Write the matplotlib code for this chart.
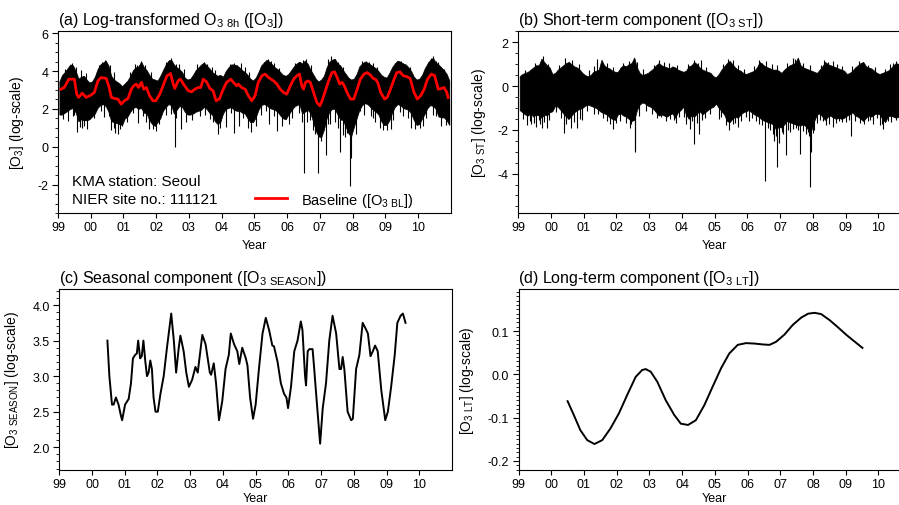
import numpy as np
import matplotlib
matplotlib.use("Agg")
import matplotlib.pyplot as plt
from matplotlib.ticker import MultipleLocator, FixedLocator, FixedFormatter, FuncFormatter

plt.rcParams['font.family'] = ['Liberation Sans', 'DejaVu Sans']
plt.rcParams['mathtext.fontset'] = 'custom'
plt.rcParams['mathtext.rm'] = 'Liberation Sans'
plt.rcParams['axes.unicode_minus'] = False

# ---------------- data ----------------
year_ticks = [1999, 2000, 2001, 2002, 2003, 2004, 2005, 2006, 2007, 2008, 2009, 2010]
year_labels = ['99', '00', '01', '02', '03', '04', '05', '06', '07', '08', '09', '10']

# monthly time index (mid-month, decimal years 1999-2010)
month_mid = 1999 + (np.arange(144) + 0.5) / 12.0

# (a) log-transformed O3: monthly envelope of daily values
o3_upper = [
    3.45, 3.8, 3.95, 4.15, 4.35, 4.3, 4.0, 3.6, 3.7, 3.75, 3.55, 3.4,
    3.45, 3.7, 4.1, 4.35, 4.45, 4.55, 4.3, 3.75, 3.55, 3.45, 3.35, 3.2,
    3.35, 3.5, 3.75, 4.05, 4.2, 4.25, 4.5, 4.2, 4.05, 3.8, 3.6, 3.55,
    3.5, 3.75, 4.05, 4.35, 4.55, 4.6, 4.35, 4.2, 4.1, 3.95, 3.65, 3.55,
    3.6, 3.8, 4.05, 4.2, 4.35, 4.45, 4.3, 4.15, 3.95, 3.85, 3.75, 3.8,
    3.7, 4.0, 4.2, 4.35, 4.35, 4.3, 4.2, 4.05, 3.95, 3.8, 3.6, 3.5,
    3.65, 3.95, 4.3, 4.45, 4.6, 4.5, 4.35, 4.2, 4.1, 3.95, 3.8, 3.75,
    3.85, 4.05, 4.25, 4.4, 4.5, 4.4, 4.55, 4.4, 4.1, 3.85, 3.6, 3.45,
    3.55, 3.75, 4.2, 4.5, 4.6, 4.65, 4.4, 4.3, 4.05, 3.85, 3.65, 3.55,
    3.6, 3.85, 4.25, 4.4, 4.5, 4.45, 4.35, 4.25, 4.15, 4.0, 3.8, 3.7,
    3.65, 3.9, 4.2, 4.4, 4.55, 4.5, 4.4, 4.35, 4.2, 4.0, 3.7, 3.55,
    3.6, 3.8, 4.15, 4.4, 4.6, 4.7, 4.45, 4.35, 4.2, 4.05, 3.85, 3.5,
]
o3_lower = [
    1.7, 1.7, 1.8, 1.9, 2.0, 2.05, 1.8, 1.35, 1.45, 1.4, 1.4, 1.45,
    1.6, 1.75, 2.05, 2.2, 2.25, 2.15, 1.85, 1.35, 1.3, 1.25, 1.2, 1.15,
    1.5, 1.6, 1.85, 2.05, 2.1, 2.0, 2.05, 1.8, 1.75, 1.4, 1.2, 1.1,
    1.3, 1.5, 1.9, 2.1, 2.25, 2.2, 1.75, 1.95, 2.15, 2.1, 1.85, 1.7,
    1.7, 1.75, 1.85, 1.9, 1.95, 2.1, 2.0, 1.8, 1.7, 1.35, 1.2, 1.3,
    1.75, 2.0, 2.05, 2.1, 1.95, 1.9, 1.9, 1.8, 1.75, 1.5, 1.3, 1.3,
    1.55, 1.95, 2.2, 2.25, 2.2, 2.05, 2.0, 1.95, 1.85, 1.65, 1.5, 1.45,
    1.7, 1.9, 2.1, 2.2, 2.25, 1.75, 1.85, 1.95, 1.8, 1.35, 0.85, 0.55,
    0.5, 0.9, 1.5, 1.85, 2.0, 2.0, 1.7, 1.45, 1.4, 1.05, 0.7, 0.55,
    1.05, 1.5, 1.95, 2.2, 2.3, 2.25, 2.1, 1.95, 1.85, 1.7, 1.35, 1.15,
    1.15, 1.4, 1.8, 2.1, 2.25, 2.2, 2.05, 2.0, 1.95, 1.75, 1.4, 1.15,
    1.2, 1.5, 1.75, 2.05, 2.2, 2.15, 2.0, 1.6, 1.55, 1.55, 1.4, 1.15,
]
# individual low days in (a)
o3_dn_year = [1999.30, 1999.45, 1999.59, 1999.74, 1999.88, 2000.40, 2000.63, 2000.75,
              2000.82, 2000.96, 2001.45, 2001.78, 2001.90, 2002.00, 2002.45, 2002.56,
              2002.75, 2003.35, 2003.65, 2003.88, 2004.12, 2004.38, 2004.52, 2004.90,
              2005.05, 2005.45, 2005.70, 2006.05, 2006.35, 2006.53, 2006.62, 2006.84,
              2006.93, 2007.18, 2007.30, 2007.45, 2007.62, 2007.84, 2007.91, 2007.96,
              2008.22, 2008.62, 2008.92, 2009.18, 2009.45, 2009.91, 2010.15, 2010.55,
              2010.95,
              1999.15, 1999.50, 1999.66, 1999.80, 2000.10, 2000.30, 2000.55, 2000.70,
              2000.88, 2001.10, 2001.30, 2001.60, 2001.70, 2002.10, 2002.30, 2002.62,
              2002.90, 2003.10, 2003.50, 2003.75, 2003.95, 2004.30, 2004.65, 2004.80,
              2005.20, 2005.35, 2005.60, 2005.85, 2006.15, 2006.45, 2006.70, 2006.78,
              2007.05, 2007.25, 2007.55, 2007.70, 2007.78, 2008.10, 2008.35, 2008.55,
              2008.70, 2008.85, 2009.05, 2009.25, 2009.55, 2009.70, 2009.80, 2010.05,
              2010.25, 2010.45, 2010.70, 2010.85]
o3_dn_value = [1.35, 1.6, 0.8, 1.0, 0.95, 1.55, 0.9, 0.75,
               0.7, 1.1, 1.25, 0.95, 0.95, 0.85, 1.75, 0.0,
               0.95, 1.65, 1.45, 0.7, 1.05, 0.75, 1.1, 0.76,
               1.1, 1.2, 0.85, 1.2, 1.8, -1.4, 1.3, 0.7,
               -1.4, -0.45, 1.2, 1.3, -0.3, 0.75, -2.05, -0.6,
               1.9, 1.5, 0.9, 0.95, 1.85, 0.93, 1.1, 1.65,
               1.2,
               1.45, 1.7, 1.05, 1.1, 1.5, 1.9, 1.6, 1.0,
               0.95, 1.3, 1.8, 1.6, 1.3, 1.2, 1.7, 1.5,
               1.3, 1.4, 1.7, 1.3, 1.0, 1.8, 1.5, 1.0,
               1.7, 1.9, 1.6, 1.1, 1.5, 1.3, 1.4, 0.9,
               0.3, 1.2, 1.0, 0.6, 0.5, 0.7, 1.7, 1.6,
               1.3, 1.0, 0.9, 1.4, 1.6, 1.5, 1.0, 1.0,
               1.5, 1.7, 1.1, 1.15]
# individual high days in (a)
o3_up_year = [1999.42, 1999.70, 2000.45, 2000.58, 2001.42, 2001.55, 2002.45, 2002.62,
              2003.45, 2003.70, 2004.48, 2004.58, 2005.43, 2005.60, 2006.40, 2006.57,
              2007.35, 2007.55, 2008.42, 2008.62, 2009.40, 2009.55, 2010.45, 2010.62,
              1999.20, 1999.55, 1999.85, 2000.25, 2000.35, 2000.70, 2001.20, 2001.35,
              2001.65, 2001.85, 2002.30, 2002.38, 2002.70, 2002.85, 2003.25, 2003.55,
              2003.80, 2004.25, 2004.38, 2004.70, 2004.85, 2005.30, 2005.50, 2005.75,
              2006.25, 2006.50, 2006.72, 2007.25, 2007.45, 2007.70, 2008.30, 2008.50,
              2008.75, 2009.30, 2009.48, 2009.75, 2010.30, 2010.40, 2010.55, 2010.80]
o3_up_value = [4.4, 4.05, 4.6, 4.3, 4.3, 4.55, 4.7, 4.35,
               4.5, 4.2, 4.3, 4.4, 4.63, 4.45, 4.5, 4.65,
               4.77, 4.5, 4.55, 4.45, 4.55, 4.4, 4.77, 4.5,
               4.1, 4.2, 3.9, 4.3, 4.5, 3.95, 3.95, 4.35,
               4.3, 3.95, 4.5, 4.6, 4.35, 4.1, 4.35, 4.35,
               4.05, 4.35, 4.45, 4.2, 3.95, 4.5, 4.55, 4.15,
               4.4, 4.6, 4.3, 4.65, 4.6, 4.2, 4.55, 4.5,
               4.2, 4.45, 4.55, 4.2, 4.5, 4.7, 4.55, 4.1]

# (a) baseline (red)
bl_year = [1999.09, 1999.19, 1999.33, 1999.50, 1999.57, 1999.63, 1999.74, 1999.86, 2000.01, 2000.11,
           2000.22, 2000.32, 2000.47, 2000.55, 2000.63, 2000.73, 2000.83, 2000.93, 2001.03, 2001.14,
           2001.24, 2001.31, 2001.39, 2001.46, 2001.55, 2001.62, 2001.70, 2001.80, 2001.90, 2001.99,
           2002.11, 2002.21, 2002.33, 2002.44, 2002.52, 2002.57, 2002.67, 2002.74, 2002.87, 2002.98,
           2003.08, 2003.18, 2003.28, 2003.36, 2003.44, 2003.54, 2003.64, 2003.74, 2003.83, 2003.93,
           2004.05, 2004.15, 2004.28, 2004.36, 2004.46, 2004.51, 2004.61, 2004.72, 2004.82, 2004.92,
           2005.02, 2005.12, 2005.23, 2005.33, 2005.43, 2005.59, 2005.69, 2005.79, 2005.89, 2005.99,
           2006.10, 2006.20, 2006.30, 2006.38, 2006.45, 2006.50, 2006.56, 2006.63, 2006.71, 2006.81,
           2006.91, 2007.00, 2007.07, 2007.17, 2007.27, 2007.37, 2007.45, 2007.53, 2007.61, 2007.68,
           2007.75, 2007.83, 2007.94, 2008.04, 2008.14, 2008.24, 2008.35, 2008.45, 2008.55, 2008.63,
           2008.70, 2008.77, 2008.86, 2008.98, 2009.06, 2009.16, 2009.27, 2009.35, 2009.45, 2009.55,
           2009.65, 2009.76, 2009.88, 2009.98, 2010.08, 2010.19, 2010.29, 2010.41, 2010.51, 2010.62,
           2010.72, 2010.80, 2010.88, 2010.92]
bl_value = [3.04, 3.13, 3.57, 3.57, 2.78, 2.61, 2.83, 2.61, 2.73, 2.87,
            3.48, 3.66, 3.61, 3.22, 2.61, 2.55, 2.52, 2.25, 2.43, 2.55,
            3.04, 3.22, 3.31, 3.13, 3.40, 3.04, 3.13, 2.69, 2.43, 2.43,
            2.78, 3.22, 3.75, 3.87, 3.31, 3.08, 3.48, 3.57, 3.22, 2.96,
            2.90, 3.04, 3.13, 3.13, 3.57, 3.43, 3.08, 2.96, 2.43, 2.52,
            3.04, 3.40, 3.57, 3.40, 3.22, 3.31, 3.13, 3.04, 2.69, 2.43,
            2.69, 3.40, 3.75, 3.84, 3.66, 3.48, 3.31, 3.04, 2.87, 2.78,
            3.22, 3.57, 3.75, 3.84, 3.22, 3.04, 3.40, 3.48, 3.40, 2.87,
            2.34, 2.16, 2.43, 2.96, 3.48, 3.92, 3.96, 3.66, 3.31, 3.40,
            3.22, 2.87, 2.52, 2.52, 3.04, 3.57, 3.84, 3.92, 3.78, 3.61,
            3.57, 3.40, 2.87, 2.52, 2.61, 3.04, 3.57, 3.92, 3.96, 3.75,
            3.71, 3.61, 2.87, 2.52, 2.69, 3.04, 3.57, 3.84, 3.75, 3.04,
            3.08, 3.13, 2.87, 2.60]

# (b) short-term component: monthly envelope
st_upper = [
    0.45, 0.55, 0.6, 0.65, 0.75, 0.85, 0.95, 0.95, 1.25, 1.1, 0.95, 0.85,
    0.55, 0.6, 0.75, 0.85, 0.95, 1.05, 1.1, 1.0, 0.9, 0.85, 0.75, 0.6,
    0.5, 0.45, 0.5, 0.65, 0.7, 0.75, 1.2, 0.95, 0.85, 0.8, 0.7, 0.65,
    0.65, 0.85, 0.95, 0.9, 1.0, 1.05, 1.3, 0.85, 0.6, 0.5, 0.55, 0.6,
    0.7, 0.8, 0.95, 1.05, 0.95, 0.9, 0.85, 0.8, 0.9, 0.85, 0.75, 0.7,
    0.65, 0.7, 0.9, 0.95, 1.1, 1.0, 0.85, 0.75, 0.7, 0.65, 0.6, 0.45,
    0.4, 0.55, 0.75, 0.9, 1.05, 1.15, 1.0, 0.85, 0.75, 0.7, 0.6, 0.55,
    0.6, 0.65, 0.7, 0.85, 1.1, 1.0, 0.9, 0.85, 0.8, 0.75, 0.75, 0.7,
    0.6, 0.75, 0.85, 0.95, 1.0, 1.05, 1.3, 0.95, 0.85, 0.8, 0.75, 0.7,
    0.65, 0.6, 0.75, 0.9, 1.1, 1.0, 0.95, 0.9, 0.85, 0.8, 0.75, 0.7,
    0.55, 0.6, 0.7, 0.85, 0.95, 1.05, 1.1, 0.9, 0.85, 0.8, 0.7, 0.6,
    0.55, 0.6, 0.65, 0.7, 0.8, 0.95, 1.05, 1.0, 0.9, 0.85, 0.8, 0.7,
]
st_lower = [
    -1.1, -1.2, -1.3, -1.35, -1.25, -1.4, -1.3, -1.35, -1.45, -1.3, -1.35, -1.2,
    -1.15, -0.9, -0.95, -1.1, -1.25, -1.4, -1.5, -1.35, -1.2, -1.1, -1.05, -1.0,
    -0.9, -0.85, -0.9, -0.95, -1.0, -1.1, -1.2, -1.25, -1.3, -1.45, -1.5, -1.55,
    -1.3, -1.25, -1.35, -1.4, -1.5, -1.6, -1.55, -1.1, -0.85, -0.75, -0.8, -0.9,
    -0.95, -1.05, -1.2, -1.35, -1.3, -1.35, -1.4, -1.3, -1.25, -1.45, -1.2, -1.1,
    -0.95, -1.3, -1.5, -1.35, -1.4, -1.25, -1.15, -1.3, -1.2, -1.1, -1.0, -0.95,
    -0.8, -1.0, -1.15, -1.3, -1.6, -1.65, -1.5, -1.4, -1.45, -1.3, -1.2, -1.15,
    -1.1, -1.2, -1.3, -1.35, -1.45, -1.55, -1.6, -1.65, -1.7, -1.75, -2.0, -1.85,
    -1.9, -1.75, -1.6, -1.65, -1.7, -1.75, -1.8, -1.8, -1.75, -1.85, -2.05, -2.0,
    -1.6, -1.3, -1.25, -1.4, -1.55, -1.4, -1.35, -1.45, -1.5, -1.45, -1.5, -1.45,
    -1.35, -1.3, -1.2, -1.35, -1.4, -1.5, -1.6, -1.45, -1.35, -1.4, -1.3, -1.25,
    -1.3, -1.5, -1.65, -1.4, -1.35, -1.4, -1.45, -1.4, -1.35, -1.3, -1.25, -1.2,
]
st_dn_year = [1999.28, 1999.40, 1999.54, 1999.62, 1999.72, 1999.87, 2000.40, 2000.52,
              2000.60, 2000.78, 2000.95, 2001.45, 2001.80, 2001.90, 2001.98, 2002.45,
              2002.56, 2002.58, 2003.35, 2003.65, 2003.82, 2004.12, 2004.24, 2004.38,
              2004.52, 2004.62, 2005.12, 2005.45, 2005.55, 2005.70, 2006.05, 2006.35,
              2006.53, 2006.62, 2006.82, 2006.92, 2006.97, 2007.18, 2007.30, 2007.48,
              2007.62, 2007.85, 2007.91, 2007.95, 2008.05, 2008.22, 2008.40, 2008.62,
              2008.80, 2009.02, 2009.18, 2009.45, 2009.68, 2009.85, 2010.05, 2010.15,
              2010.30, 2010.55,
              1999.15, 1999.35, 1999.48, 1999.66, 1999.80, 1999.95, 2000.15, 2000.30,
              2000.47, 2000.70, 2000.88, 2001.10, 2001.30, 2001.60, 2001.70, 2002.10,
              2002.30, 2002.40, 2002.70, 2002.90, 2003.10, 2003.25, 2003.50, 2003.75,
              2003.92, 2004.05, 2004.30, 2004.45, 2004.70, 2004.85, 2005.20, 2005.35,
              2005.62, 2005.80, 2005.95, 2006.15, 2006.25, 2006.45, 2006.70, 2006.77,
              2006.87, 2007.05, 2007.10, 2007.25, 2007.40, 2007.55, 2007.70, 2007.78,
              2007.88, 2008.00, 2008.12, 2008.30, 2008.50, 2008.70, 2008.88, 2009.10,
              2009.30, 2009.55, 2009.75, 2009.95, 2010.10, 2010.40, 2010.62]
st_dn_value = [-1.8, -1.75, -1.85, -1.55, -1.9, -1.9, -2.15, -1.5,
               -1.9, -1.9, -1.55, -1.3, -1.75, -1.95, -1.7, -1.75,
               -3.0, -2.9, -1.4, -1.5, -1.7, -1.75, -1.95, -2.65,
               -2.2, -1.55, -1.5, -2.0, -1.75, -1.85, -1.6, -1.75,
               -4.35, -1.9, -2.5, -3.7, -2.6, -3.15, -2.1, -1.9,
               -3.1, -2.1, -4.6, -3.0, -2.0, -1.55, -1.8, -1.85,
               -1.6, -1.65, -2.3, -1.7, -1.6, -1.75, -1.8, -1.95,
               -1.6, -1.55,
               -1.5, -1.6, -1.7, -1.75, -1.65, -1.55, -1.2, -1.45,
               -1.75, -1.65, -1.5, -1.15, -1.3, -1.45, -1.6, -1.6,
               -1.7, -1.9, -1.35, -1.15, -1.3, -1.45, -1.6, -1.55,
               -1.4, -1.4, -1.6, -1.7, -1.45, -1.3, -1.4, -1.8,
               -1.7, -1.6, -1.4, -1.45, -1.6, -1.8, -2.0, -2.2,
               -2.3, -2.1, -2.2, -2.0, -1.95, -2.0, -2.05, -2.2,
               -2.3, -2.15, -1.7, -1.6, -1.75, -1.7, -1.65, -1.55,
               -1.6, -1.75, -1.55, -1.45, -1.75, -1.65, -1.6]
st_up_year = [1999.68, 1999.75, 2000.42, 2000.55, 2001.42, 2001.55, 2002.55, 2002.62,
              2003.45, 2004.48, 2004.58, 2005.55, 2006.35, 2006.45, 2007.38, 2007.55,
              2008.45, 2008.62, 2009.55, 2010.35, 2010.65,
              1999.20, 1999.50, 1999.90, 2000.25, 2000.65, 2000.85, 2001.15, 2001.30,
              2001.70, 2001.90, 2002.20, 2002.38, 2002.80, 2003.15, 2003.30, 2003.60,
              2003.85, 2004.20, 2004.38, 2004.75, 2005.25, 2005.42, 2005.70, 2005.90,
              2006.20, 2006.58, 2006.75, 2006.90, 2007.20, 2007.45, 2007.70, 2007.90,
              2008.25, 2008.35, 2008.75, 2008.90, 2009.20, 2009.40, 2009.70, 2009.90,
              2010.20, 2010.45, 2010.55]
st_up_value = [1.15, 1.35, 1.3, 1.1, 1.25, 1.1, 1.3, 1.1,
               1.1, 1.05, 1.2, 1.2, 1.2, 1.05, 1.3, 1.2,
               1.1, 1.15, 1.0, 1.0, 1.1,
               0.75, 1.05, 1.0, 0.95, 1.2, 1.0, 0.75, 0.9,
               1.05, 0.85, 1.05, 1.15, 0.8, 0.95, 1.2, 1.05,
               0.95, 1.0, 1.2, 0.85, 1.0, 1.25, 0.95, 0.8,
               0.9, 1.15, 1.0, 0.95, 1.05, 1.25, 1.05, 0.95,
               0.95, 1.2, 1.0, 0.9, 0.9, 1.15, 0.95, 0.85,
               0.8, 1.05, 1.15]

# (c) seasonal component
season_year = [2000.47, 2000.53, 2000.61, 2000.66, 2000.73, 2000.81, 2000.88, 2000.92, 2001.01, 2001.12,
               2001.19, 2001.25, 2001.32, 2001.37, 2001.41, 2001.47, 2001.52, 2001.57, 2001.63, 2001.68,
               2001.73, 2001.78, 2001.83, 2001.88, 2001.94, 2002.01, 2002.09, 2002.19, 2002.29, 2002.42,
               2002.50, 2002.57, 2002.65, 2002.70, 2002.80, 2002.88, 2002.96, 2003.06, 2003.16, 2003.23,
               2003.37, 2003.47, 2003.60, 2003.64, 2003.72, 2003.79, 2003.88, 2003.98, 2004.08, 2004.18,
               2004.24, 2004.34, 2004.44, 2004.50, 2004.59, 2004.70, 2004.75, 2004.83, 2004.92, 2005.00,
               2005.10, 2005.21, 2005.31, 2005.41, 2005.51, 2005.56, 2005.67, 2005.77, 2005.87, 2005.94,
               2005.99, 2006.08, 2006.18, 2006.28, 2006.38, 2006.43, 2006.51, 2006.54, 2006.59, 2006.64,
               2006.74, 2006.79, 2006.84, 2006.97, 2007.05, 2007.15, 2007.25, 2007.35, 2007.46, 2007.56,
               2007.61, 2007.66, 2007.71, 2007.81, 2007.92, 2007.97, 2008.07, 2008.17, 2008.27, 2008.38,
               2008.43, 2008.51, 2008.58, 2008.65, 2008.73, 2008.84, 2008.96, 2009.04, 2009.14, 2009.25,
               2009.33, 2009.43, 2009.50, 2009.58]
season_value = [3.50, 3.00, 2.60, 2.60, 2.70, 2.60, 2.45, 2.38, 2.60, 2.68,
                2.90, 3.25, 3.30, 3.32, 3.50, 3.25, 3.28, 3.50, 3.20, 3.00,
                3.05, 3.22, 3.10, 2.70, 2.50, 2.50, 2.75, 3.00, 3.40, 3.88,
                3.50, 3.05, 3.40, 3.57, 3.35, 3.05, 2.85, 2.95, 3.13, 3.05,
                3.58, 3.45, 3.05, 3.02, 3.18, 2.90, 2.38, 2.65, 3.10, 3.30,
                3.60, 3.45, 3.35, 3.17, 3.40, 3.25, 3.15, 2.70, 2.40, 2.60,
                3.10, 3.60, 3.82, 3.65, 3.43, 3.42, 3.20, 2.90, 2.75, 2.70,
                2.55, 2.85, 3.35, 3.50, 3.77, 3.65, 3.00, 2.87, 3.35, 3.38,
                3.38, 3.10, 2.80, 2.05, 2.55, 2.90, 3.50, 3.85, 3.60, 3.10,
                3.10, 3.27, 3.10, 2.50, 2.38, 2.40, 3.10, 3.30, 3.75, 3.65,
                3.60, 3.28, 3.35, 3.43, 3.35, 2.80, 2.38, 2.50, 2.85, 3.30,
                3.75, 3.85, 3.88, 3.75]

# (d) long-term component
lt_year = [2000.50, 2000.69, 2000.89, 2001.10, 2001.32, 2001.56, 2001.81, 2002.07, 2002.32, 2002.58,
           2002.78, 2002.89, 2003.04, 2003.24, 2003.50, 2003.76, 2003.96, 2004.18, 2004.42, 2004.68,
           2004.93, 2005.19, 2005.44, 2005.70, 2005.95, 2006.21, 2006.46, 2006.67, 2006.87, 2007.13,
           2007.38, 2007.64, 2007.85, 2008.05, 2008.25, 2008.51, 2008.77, 2009.02, 2009.28, 2009.51]
lt_value = [-0.062, -0.094, -0.129, -0.152, -0.161, -0.152, -0.125, -0.090, -0.048, -0.006,
            0.010, 0.012, 0.006, -0.017, -0.060, -0.094, -0.114, -0.117, -0.106, -0.071,
            -0.029, 0.014, 0.048, 0.068, 0.072, 0.071, 0.069, 0.068, 0.075, 0.092,
            0.114, 0.131, 0.140, 0.142, 0.139, 0.125, 0.108, 0.091, 0.075, 0.061]

# ---------------- figure ----------------
W, H = 899, 506
fig = plt.figure(figsize=(W / 100, H / 100), dpi=100)


def box(l, t, r, b):
    return [l / W, 1 - b / H, (r - l) / W, (b - t) / H]


axA = fig.add_axes(box(58, 32.3, 450.7, 214))
axB = fig.add_axes(box(518.3, 32.3, 911.0, 214))
axC = fig.add_axes(box(59.3, 289.7, 452.0, 471))
axD = fig.add_axes(box(518.5, 290, 911.2, 471))

TICK_FS = 9
YLAB_FS = 10


def one_dec(v, pos):
    return f"{round(v, 1) + 0:.1f}"


def style(ax, ylim, major, minor, ylabel, ylab_x, xlab_y, fmt=None):
    ax.set_xlim(1999, 2011)
    ax.set_ylim(*ylim)
    ax.xaxis.set_major_locator(FixedLocator(year_ticks))
    ax.xaxis.set_major_formatter(FixedFormatter(year_labels))
    ax.yaxis.set_major_locator(MultipleLocator(major))
    ax.yaxis.set_minor_locator(MultipleLocator(minor))
    if fmt is not None:
        ax.yaxis.set_major_formatter(FuncFormatter(fmt))
    ax.tick_params(axis='x', which='major', direction='out', length=3.6, width=0.8,
                   labelsize=TICK_FS, pad=2.5, top=False)
    ax.tick_params(axis='y', which='major', direction='out', length=4.5, width=0.8,
                   labelsize=TICK_FS, pad=2.5, right=False)
    ax.tick_params(axis='y', which='minor', direction='out', length=2.4, width=0.6, right=False)
    ax.tick_params(axis='x', which='minor', bottom=False, top=False)
    for s in ax.spines.values():
        s.set_linewidth(0.8)
    ax.set_xlabel('Year', fontsize=TICK_FS)
    ax.xaxis.set_label_coords(0.5, xlab_y)
    ax.set_ylabel(ylabel, fontsize=YLAB_FS)
    ax.yaxis.set_label_coords(ylab_x, 0.5)


# (a)
axA.fill_between(month_mid, o3_lower, o3_upper, color='black', lw=0.5)
axA.vlines(o3_dn_year, o3_dn_value, np.interp(o3_dn_year, bl_year, bl_value), color='black', lw=0.8)
axA.vlines(o3_up_year, np.interp(o3_up_year, bl_year, bl_value), o3_up_value, color='black', lw=0.8)
bl_line, = axA.plot(bl_year, bl_value, color='#ff0000', lw=2.0,
                    label=r'Baseline ($\mathregular{[O_{3\ BL}]}$)')
style(axA, (-3.5, 6.1), 2, 0.5, r'$\mathregular{[O_3]}$ (log-scale)', -0.082, -0.145)
axA.set_title(r'(a) Log-transformed $\mathregular{O_{3\ 8h}}$ ($\mathregular{[O_3]}$)',
              loc='left', fontsize=11.5, pad=5)
axA.text(0.036, 0.156, 'KMA station: Seoul', transform=axA.transAxes, fontsize=11, va='baseline')
axA.text(0.036, 0.053, 'NIER site no.: 111121', transform=axA.transAxes, fontsize=11, va='baseline')
axA.legend(handles=[bl_line], loc='center left', bbox_to_anchor=(0.502, 0.074), frameon=False,
           fontsize=10.5, handlelength=2.2, handletextpad=0.95, borderpad=0, borderaxespad=0)

# (b)
axB.fill_between(month_mid, st_lower, st_upper, color='black', lw=0.5)
axB.vlines(st_dn_year, st_dn_value, 0, color='black', lw=0.8)
axB.vlines(st_up_year, 0, st_up_value, color='black', lw=0.8)
style(axB, (-5.8, 2.5), 2, 0.5, r'$\mathregular{[O_{3\ ST}]}$ (log-scale)', -0.078, -0.145)
axB.set_title(r'(b) Short-term component ($\mathregular{[O_{3\ ST}]}$)', loc='left', fontsize=11.5, pad=5)

# (c)
axC.plot(season_year, season_value, color='black', lw=1.4, solid_joinstyle='round')
style(axC, (1.68, 4.23), 0.5, 0.1, r'$\mathregular{[O_{3\ SEASON}]}$ (log-scale)', -0.098, -0.122, one_dec)
axC.set_title(r'(c) Seasonal component ($\mathregular{[O_{3\ SEASON}]}$)', loc='left', fontsize=11.5, pad=5)

# (d)
axD.plot(lt_year, lt_value, color='black', lw=1.4, solid_joinstyle='round')
style(axD, (-0.221, 0.197), 0.1, 0.01, r'$\mathregular{[O_{3\ LT}]}$ (log-scale)', -0.109, -0.122, one_dec)
axD.set_title(r'(d) Long-term component ($\mathregular{[O_{3\ LT}]}$)', loc='left', fontsize=11.5, pad=5)

fig.savefig('out.png', dpi=100)
